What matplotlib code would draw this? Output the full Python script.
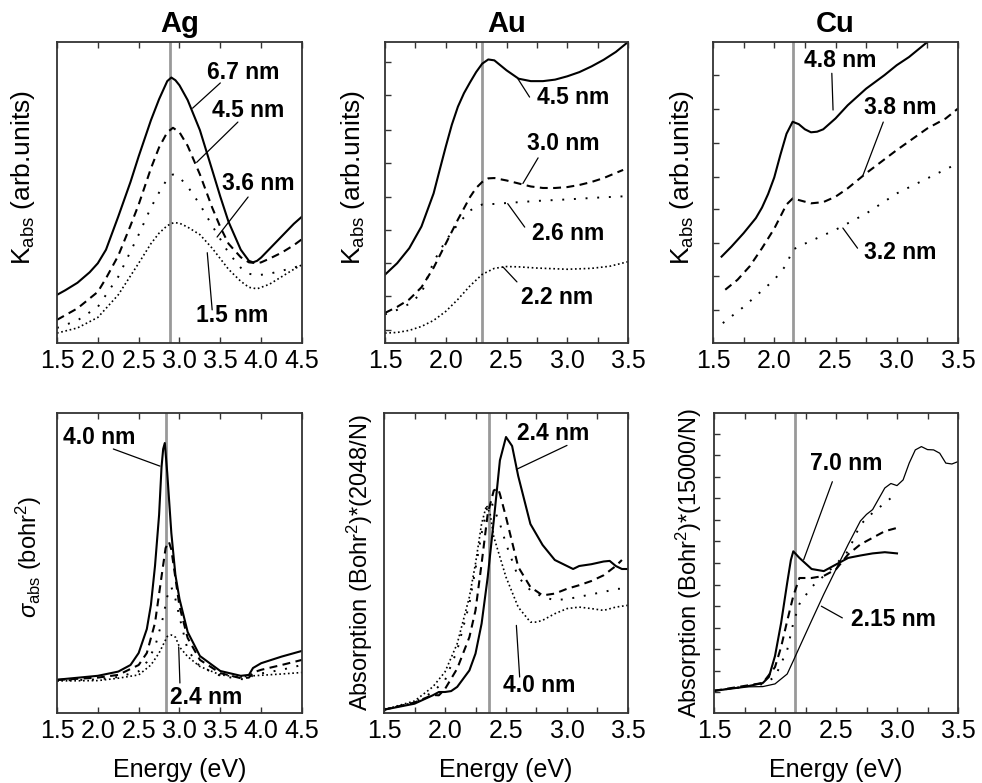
import matplotlib
matplotlib.use("Agg")
import matplotlib.pyplot as plt
from matplotlib.ticker import MultipleLocator, NullFormatter

plt.rcParams["font.family"] = ["Liberation Sans", "DejaVu Sans"]
plt.rcParams["mathtext.fontset"] = "custom"
plt.rcParams["mathtext.rm"] = "Liberation Sans"
plt.rcParams["mathtext.it"] = "Liberation Sans:italic"
plt.rcParams["mathtext.bf"] = "Liberation Sans:bold"

# --- data (y normalised to the panel height, arbitrary units) ---
# Ag, experiment
AG_T_E1 = [1.5, 1.6, 1.75, 1.9, 2.0, 2.1, 2.25, 2.4, 2.5, 2.6, 2.65, 2.75, 2.85, 2.9, 2.95,
           3.0, 3.1, 3.25, 3.4, 3.5, 3.6, 3.75, 3.85, 3.9, 3.95, 4.0, 4.1, 4.25, 4.4, 4.5]
AG_T_67 = [0.16, 0.175, 0.20, 0.235, 0.265, 0.31, 0.42, 0.535, 0.62, 0.70, 0.74, 0.81, 0.87,
           0.882, 0.873, 0.856, 0.807, 0.707, 0.575, 0.486, 0.403, 0.31, 0.273, 0.268, 0.273,
           0.284, 0.312, 0.354, 0.396, 0.42]
AG_T_E2 = [1.5, 1.75, 2.0, 2.1, 2.25, 2.4, 2.5, 2.65, 2.75, 2.85, 2.92, 3.0, 3.1, 3.25, 3.4,
           3.5, 3.6, 3.75, 3.85, 3.95, 4.0, 4.1, 4.25, 4.4, 4.5]
AG_T_45 = [0.077, 0.115, 0.17, 0.215, 0.29, 0.39, 0.46, 0.58, 0.65, 0.70, 0.715, 0.70, 0.655,
           0.56, 0.45, 0.385, 0.33, 0.285, 0.268, 0.265, 0.268, 0.28, 0.30, 0.325, 0.345]
AG_T_E3 = [1.5, 1.75, 2.0, 2.25, 2.5, 2.65, 2.75, 2.85, 2.92, 3.0, 3.1, 3.25, 3.4, 3.5, 3.6,
           3.75, 3.85, 3.95, 4.1, 4.25, 4.4, 4.5]
AG_T_36 = [0.05, 0.075, 0.12, 0.22, 0.36, 0.45, 0.50, 0.545, 0.56, 0.55, 0.52, 0.46, 0.39,
           0.345, 0.30, 0.25, 0.23, 0.225, 0.23, 0.24, 0.25, 0.26]
AG_T_E4 = [1.5, 1.75, 2.0, 2.25, 2.5, 2.65, 2.75, 2.85, 2.93, 3.0, 3.1, 3.25, 3.4, 3.5, 3.6,
           3.75, 3.85, 3.95, 4.1, 4.25, 4.4, 4.5]
AG_T_15 = [0.033, 0.05, 0.085, 0.16, 0.265, 0.33, 0.365, 0.39, 0.40, 0.398, 0.385, 0.36, 0.315,
           0.28, 0.245, 0.205, 0.185, 0.18, 0.195, 0.22, 0.245, 0.26]

# Au, experiment
AU_T_E1 = [1.5, 1.6, 1.7, 1.8, 1.9, 1.95, 2.0, 2.05, 2.1, 2.15, 2.2, 2.25, 2.3, 2.35, 2.4, 2.5,
           2.6, 2.7, 2.8, 2.9, 3.0, 3.1, 3.2, 3.3, 3.4, 3.5]
AU_T_45 = [0.227, 0.265, 0.315, 0.387, 0.497, 0.575, 0.652, 0.725, 0.785, 0.83, 0.866, 0.90,
           0.928, 0.942, 0.939, 0.906, 0.878, 0.87, 0.87, 0.875, 0.886, 0.90, 0.919, 0.941,
           0.967, 1.0]
AU_T_E2 = [1.5, 1.6, 1.7, 1.8, 1.9, 2.0, 2.1, 2.2, 2.25, 2.3, 2.35, 2.4, 2.5, 2.6, 2.7, 2.8,
           2.9, 3.0, 3.1, 3.2, 3.3, 3.4, 3.46]
AU_T_30 = [0.10, 0.12, 0.145, 0.185, 0.25, 0.33, 0.41, 0.485, 0.515, 0.535, 0.547, 0.548, 0.54,
           0.53, 0.52, 0.515, 0.515, 0.518, 0.525, 0.535, 0.548, 0.565, 0.575]
AU_T_E3 = [1.5, 1.6, 1.7, 1.8, 1.9, 2.0, 2.1, 2.2, 2.25, 2.3, 2.4, 2.5, 2.75, 3.0, 3.25, 3.5]
AU_T_26 = [0.095, 0.11, 0.13, 0.165, 0.27, 0.34, 0.395, 0.44, 0.452, 0.46, 0.462, 0.465, 0.472,
           0.477, 0.483, 0.488]
AU_T_E4 = [1.5, 1.6, 1.7, 1.8, 1.9, 2.0, 2.1, 2.2, 2.3, 2.4, 2.5, 2.6, 2.75, 3.0, 3.2, 3.35, 3.5]
AU_T_22 = [0.033, 0.035, 0.042, 0.055, 0.075, 0.105, 0.145, 0.19, 0.228, 0.248, 0.254, 0.253,
           0.249, 0.245, 0.248, 0.255, 0.27]

# Cu, experiment
CU_T_E1 = [1.57, 1.65, 1.75, 1.85, 1.9, 1.95, 2.0, 2.05, 2.1, 2.15, 2.2, 2.25, 2.3, 2.35, 2.4,
           2.5, 2.6, 2.75, 2.9, 3.0, 3.1, 3.25, 3.3]
CU_T_48 = [0.287, 0.32, 0.365, 0.415, 0.45, 0.495, 0.55, 0.625, 0.695, 0.735, 0.727, 0.71, 0.70,
           0.702, 0.71, 0.746, 0.79, 0.845, 0.89, 0.923, 0.95, 1.0, 1.02]
CU_T_E2 = [1.6, 1.7, 1.8, 1.9, 2.0, 2.05, 2.1, 2.15, 2.2, 2.3, 2.4, 2.5, 2.6, 2.75, 3.0, 3.25,
           3.4, 3.5]
CU_T_38 = [0.177, 0.21, 0.255, 0.315, 0.38, 0.42, 0.46, 0.48, 0.475, 0.464, 0.468, 0.486, 0.514,
           0.564, 0.641, 0.713, 0.746, 0.779]
CU_T_E3 = [1.58, 1.75, 2.0, 2.1, 2.15, 2.25, 2.5, 2.75, 3.0, 3.25, 3.5]
CU_T_32 = [0.066, 0.12, 0.21, 0.26, 0.31, 0.33, 0.376, 0.43, 0.497, 0.547, 0.597]

# Ag, theory
AG_B_E1 = [1.5, 2.0, 2.25, 2.4, 2.5, 2.6, 2.65, 2.7, 2.75, 2.78, 2.8, 2.82, 2.85, 2.9, 2.95,
           3.0, 3.1, 3.25, 3.5, 3.75, 3.85, 3.9, 4.0, 4.25, 4.5]
AG_B_40 = [0.111, 0.124, 0.138, 0.16, 0.20, 0.28, 0.36, 0.49, 0.66, 0.82, 0.88, 0.90, 0.80,
           0.60, 0.46, 0.38, 0.27, 0.19, 0.14, 0.124, 0.127, 0.15, 0.166, 0.188, 0.207]
AG_B_E2 = [1.5, 2.0, 2.25, 2.5, 2.6, 2.7, 2.78, 2.83, 2.87, 2.9, 2.95, 3.0, 3.1, 3.25, 3.5,
           3.75, 3.85, 3.9, 4.0, 4.25, 4.5]
AG_B_M1 = [0.11, 0.118, 0.127, 0.16, 0.20, 0.30, 0.455, 0.55, 0.571, 0.545, 0.45, 0.355, 0.25,
           0.177, 0.133, 0.116, 0.118, 0.135, 0.144, 0.16, 0.177]
AG_B_E3 = [1.5, 2.0, 2.25, 2.5, 2.6, 2.7, 2.8, 2.85, 2.9, 2.95, 3.0, 3.1, 3.25, 3.5, 3.75,
           3.85, 3.9, 4.25, 4.5]
AG_B_M2 = [0.108, 0.112, 0.12, 0.139, 0.17, 0.22, 0.32, 0.388, 0.42, 0.38, 0.32, 0.21, 0.155,
           0.124, 0.113, 0.112, 0.127, 0.144, 0.16]
AG_B_E4 = [1.5, 2.0, 2.25, 2.5, 2.65, 2.75, 2.85, 2.9, 2.95, 3.0, 3.1, 3.25, 3.5, 3.75, 3.9,
           4.25, 4.5]
AG_B_24 = [0.107, 0.108, 0.116, 0.127, 0.16, 0.20, 0.255, 0.26, 0.253, 0.22, 0.188, 0.155,
           0.127, 0.12, 0.124, 0.13, 0.135]

# Au, theory
AU_B_E1 = [1.5, 1.75, 1.9, 1.95, 2.0, 2.05, 2.1, 2.2, 2.25, 2.3, 2.35, 2.4, 2.45, 2.5, 2.55,
           2.6, 2.7, 2.8, 2.9, 3.0, 3.05, 3.1, 3.2, 3.3, 3.35, 3.4, 3.45, 3.5]
AU_B_24 = [0.011, 0.031, 0.059, 0.07, 0.07, 0.073, 0.087, 0.142, 0.198, 0.298, 0.453, 0.642,
           0.842, 0.92, 0.89, 0.79, 0.63, 0.56, 0.51, 0.49, 0.48, 0.49, 0.496, 0.505, 0.507,
           0.49, 0.48, 0.48]
AU_B_E2 = [1.5, 1.75, 1.9, 1.95, 2.0, 2.1, 2.2, 2.25, 2.3, 2.35, 2.4, 2.435, 2.45, 2.5, 2.6,
           2.7, 2.8, 2.9, 3.0, 3.1, 3.2, 3.3, 3.4, 3.45]
AU_B_M1 = [0.011, 0.035, 0.06, 0.059, 0.08, 0.148, 0.253, 0.342, 0.498, 0.664, 0.742, 0.748,
           0.73, 0.653, 0.487, 0.42, 0.392, 0.398, 0.414, 0.426, 0.44, 0.459, 0.49, 0.51]
AU_B_E3 = [1.5, 1.75, 1.9, 2.0, 2.1, 2.2, 2.3, 2.35, 2.38, 2.45, 2.5, 2.6, 2.7, 2.8, 2.9, 3.0,
           3.1, 3.2, 3.3, 3.4, 3.45]
AU_B_M2 = [0.011, 0.035, 0.07, 0.109, 0.209, 0.364, 0.598, 0.692, 0.703, 0.631, 0.564, 0.453,
           0.409, 0.387, 0.376, 0.38, 0.387, 0.396, 0.403, 0.414, 0.414]
AU_B_E4 = [1.5, 1.75, 1.9, 2.0, 2.1, 2.2, 2.25, 2.3, 2.34, 2.37, 2.4, 2.5, 2.6, 2.7, 2.75, 2.8,
           2.9, 3.0, 3.1, 3.2, 3.3, 3.4, 3.5]
AU_B_40 = [0.011, 0.04, 0.087, 0.137, 0.231, 0.387, 0.498, 0.631, 0.692, 0.664, 0.587, 0.453,
           0.353, 0.303, 0.303, 0.309, 0.331, 0.348, 0.353, 0.348, 0.342, 0.353, 0.359]

# Cu, theory
CU_B_E1 = [1.5, 1.75, 1.9, 1.95, 2.0, 2.05, 2.1, 2.13, 2.15, 2.2, 2.3, 2.4, 2.5, 2.6, 2.7, 2.8,
           2.9, 3.0]
CU_B_70 = [0.074, 0.087, 0.10, 0.12, 0.19, 0.30, 0.434, 0.51, 0.539, 0.517, 0.48, 0.473, 0.495,
           0.517, 0.525, 0.532, 0.536, 0.532]
CU_B_E2 = [1.5, 1.9, 2.0, 2.05, 2.1, 2.15, 2.2, 2.3, 2.4, 2.5, 2.6, 2.7, 2.8, 2.9, 3.0]
CU_B_M1 = [0.074, 0.10, 0.153, 0.22, 0.307, 0.39, 0.45, 0.45, 0.457, 0.479, 0.529, 0.562, 0.584,
           0.606, 0.617]
CU_B_E3 = [1.5, 1.9, 2.0, 2.1, 2.15, 2.2, 2.3, 2.4, 2.5, 2.6, 2.7, 2.8, 2.9, 3.0]
CU_B_M2 = [0.074, 0.096, 0.12, 0.21, 0.30, 0.363, 0.42, 0.457, 0.496, 0.54, 0.628, 0.667, 0.70,
           0.733]
CU_B_E4 = [1.5, 1.75, 1.9, 2.0, 2.1, 2.15, 2.2, 2.3, 2.4, 2.5, 2.6, 2.7, 2.75, 2.8, 2.9, 2.95,
           3.0, 3.05, 3.1, 3.15, 3.2, 3.25, 3.3, 3.35, 3.4, 3.45, 3.5]
CU_B_215 = [0.074, 0.087, 0.088, 0.097, 0.13, 0.174, 0.219, 0.308, 0.396, 0.479, 0.562, 0.64,
            0.662, 0.678, 0.75, 0.765, 0.758, 0.777, 0.833, 0.877, 0.888, 0.878, 0.877, 0.866,
            0.833, 0.83, 0.838]

# plasmon positions (gray lines)
VLINES = [2.88, 2.30, 2.155, 2.83, 2.36, 2.16]
TITLES = ["Ag", "Au", "Cu"]

SOLID = "-"
DASH = (0, (3.8, 2.6))
SPARSE = (0, (1, 5))
DENSE = (0, (1, 1.6))

W, H = 982, 783
fig = plt.figure(figsize=(W / 100, H / 100), dpi=100)


def make_axes(left, top, right, bottom):
    return fig.add_axes([left / W, 1 - bottom / H, (right - left) / W, (bottom - top) / H])


def style(ax, xlim, minor, yticks=None):
    ax.set_xlim(*xlim)
    ax.set_ylim(0, 1)
    ax.xaxis.set_major_locator(MultipleLocator(0.5))
    if minor:
        ax.xaxis.set_minor_locator(MultipleLocator(0.25))
    ax.xaxis.set_major_formatter(plt.FuncFormatter(lambda v, p: f"{v:.1f}"))
    ax.tick_params(axis="x", which="both", direction="in", top=True, length=4,
                   width=1, labelsize=18, pad=4, color="#333333")
    if yticks is None:
        ax.set_yticks([])
    else:
        ax.set_yticks(yticks)
        ax.yaxis.set_major_formatter(NullFormatter())
        ax.tick_params(axis="y", direction="in", length=4, width=1, color="#333333")
    for s in ax.spines.values():
        s.set_color("#333333")
        s.set_linewidth(1.3)


def label(ax, txt, xy_text, xy_line0, xy_line1):
    ax.annotate("", xy=xy_line1, xytext=xy_line0,
                arrowprops=dict(arrowstyle="-", lw=0.9, color="black", shrinkA=0, shrinkB=0))
    ax.text(*xy_text, txt, ha="center", va="center", fontsize=16.5, fontweight="bold")


ax1 = make_axes(57, 42, 302, 343)
ax2 = make_axes(385, 42, 628, 343)
ax3 = make_axes(713, 42, 958, 343)
ax4 = make_axes(57, 413, 302, 713)
ax5 = make_axes(384, 413, 628, 713)
ax6 = make_axes(714, 413, 958, 713)
axes = [ax1, ax2, ax3, ax4, ax5, ax6]

for ax, xv in zip(axes, VLINES):
    ax.axvline(xv, color="#999999", lw=2.0, zorder=1)

# Ag top
ax1.plot(AG_T_E1, AG_T_67, color="k", ls=SOLID, lw=1.5)
ax1.plot(AG_T_E2, AG_T_45, color="k", ls=DASH, lw=1.5)
ax1.plot(AG_T_E3, AG_T_36, color="k", ls=SPARSE, lw=1.4)
ax1.plot(AG_T_E4, AG_T_15, color="k", ls=DENSE, lw=1.2)
style(ax1, (1.5, 4.5), False)
label(ax1, "6.7 nm", (3.78, 0.90), (3.50, 0.864), (3.16, 0.78))
label(ax1, "4.5 nm", (3.84, 0.774), (3.715, 0.734), (3.21, 0.60))
label(ax1, "3.6 nm", (3.96, 0.53), (3.84, 0.485), (3.46, 0.352))
label(ax1, "1.5 nm", (3.65, 0.093), (3.40, 0.11), (3.34, 0.30))

# Au top
ax2.plot(AU_T_E1, AU_T_45, color="k", ls=SOLID, lw=1.5)
ax2.plot(AU_T_E2, AU_T_30, color="k", ls=DASH, lw=1.5)
ax2.plot(AU_T_E3, AU_T_26, color="k", ls=SPARSE, lw=1.4)
ax2.plot(AU_T_E4, AU_T_22, color="k", ls=DENSE, lw=1.2)
style(ax2, (1.5, 3.5), True, yticks=[0.044, 0.155, 0.265, 0.376, 0.486, 0.597, 0.709, 0.823, 0.934])
label(ax2, "4.5 nm", (3.05, 0.817), (2.69, 0.817), (2.595, 0.877))
label(ax2, "3.0 nm", (2.965, 0.664), (2.76, 0.615), (2.635, 0.53))
label(ax2, "2.6 nm", (3.005, 0.365), (2.65, 0.385), (2.51, 0.463))
label(ax2, "2.2 nm", (2.92, 0.15), (2.586, 0.203), (2.47, 0.253))

# Cu top
ax3.plot(CU_T_E1, CU_T_48, color="k", ls=SOLID, lw=1.5)
ax3.plot(CU_T_E2, CU_T_38, color="k", ls=DASH, lw=1.5)
ax3.plot(CU_T_E3, CU_T_32, color="k", ls=SPARSE, lw=1.4)
style(ax3, (1.5, 3.5), True, yticks=[0.11, 0.221, 0.331, 0.444, 0.552, 0.665, 0.776, 0.889])
label(ax3, "4.8 nm", (2.537, 0.94), (2.47, 0.896), (2.48, 0.774))
label(ax3, "3.8 nm", (3.03, 0.784), (2.89, 0.734), (2.725, 0.558))
label(ax3, "3.2 nm", (3.03, 0.30), (2.68, 0.315), (2.56, 0.382))

# Ag bottom
ax4.plot(AG_B_E1, AG_B_40, color="k", ls=SOLID, lw=1.5)
ax4.plot(AG_B_E2, AG_B_M1, color="k", ls=DASH, lw=1.5)
ax4.plot(AG_B_E3, AG_B_M2, color="k", ls=SPARSE, lw=1.4)
ax4.plot(AG_B_E4, AG_B_24, color="k", ls=DENSE, lw=1.2)
style(ax4, (1.5, 4.5), False)
label(ax4, "4.0 nm", (2.02, 0.92), (2.19, 0.88), (2.76, 0.823))
label(ax4, "2.4 nm", (3.33, 0.05), (3.005, 0.10), (2.99, 0.22))

# Au bottom
ax5.plot(AU_B_E1, AU_B_24, color="k", ls=SOLID, lw=1.5)
ax5.plot(AU_B_E2, AU_B_M1, color="k", ls=DASH, lw=1.5)
ax5.plot(AU_B_E3, AU_B_M2, color="k", ls=SPARSE, lw=1.4)
ax5.plot(AU_B_E4, AU_B_40, color="k", ls=DENSE, lw=1.2)
style(ax5, (1.5, 3.5), True)
label(ax5, "2.4 nm", (2.885, 0.931), (3.0, 0.892), (2.585, 0.812))
label(ax5, "4.0 nm", (2.776, 0.092), (2.612, 0.12), (2.585, 0.292))

# Cu bottom
ax6.plot(CU_B_E1, CU_B_70, color="k", ls=SOLID, lw=1.5)
ax6.plot(CU_B_E2, CU_B_M1, color="k", ls=DASH, lw=1.5)
ax6.plot(CU_B_E3, CU_B_M2, color="k", ls=SPARSE, lw=1.4)
ax6.plot(CU_B_E4, CU_B_215, color="k", ls=SOLID, lw=0.9)
style(ax6, (1.5, 3.5), True, yticks=[0.069, 0.14, 0.212, 0.284, 0.356, 0.428, 0.5, 0.572,
                                      0.644, 0.716, 0.788, 0.859, 0.931])
label(ax6, "7.0 nm", (2.585, 0.832), (2.47, 0.771), (2.235, 0.511))
label(ax6, "2.15 nm", (2.967, 0.312), (2.552, 0.317), (2.38, 0.356))

# titles
for ax, t in zip([ax1, ax2, ax3], TITLES):
    ax.text(0.5, 1.06, t, transform=ax.transAxes, ha="center", va="center",
            fontsize=21, fontweight="bold")

# axis labels
ylab_top = r"K$_{\rm abs}$ (arb.units)"
for ax, xpos in zip([ax1, ax2, ax3], [-0.139, -0.132, -0.127]):
    ax.set_ylabel(ylab_top, fontsize=19, va="center", ha="center")
    ax.yaxis.set_label_coords(xpos, 0.55)

ax4.set_ylabel(r"$\sigma_{\rm abs}$ (bohr$^{2}$)", fontsize=17, va="center", ha="center")
ax4.yaxis.set_label_coords(-0.114, 0.52)
ax5.set_ylabel(r"Absorption (Bohr$^{2}$)*(2048/N)", fontsize=17, va="center", ha="center")
ax5.yaxis.set_label_coords(-0.098, 0.50)
ax6.set_ylabel(r"Absorption (Bohr$^{2}$)*(15000/N)", fontsize=17, va="center", ha="center")
ax6.yaxis.set_label_coords(-0.102, 0.50)

for ax in [ax4, ax5, ax6]:
    ax.set_xlabel("Energy (eV)", fontsize=18, va="center")
    ax.xaxis.set_label_coords(0.5, -0.19)

fig.savefig("out.png", dpi=100)
